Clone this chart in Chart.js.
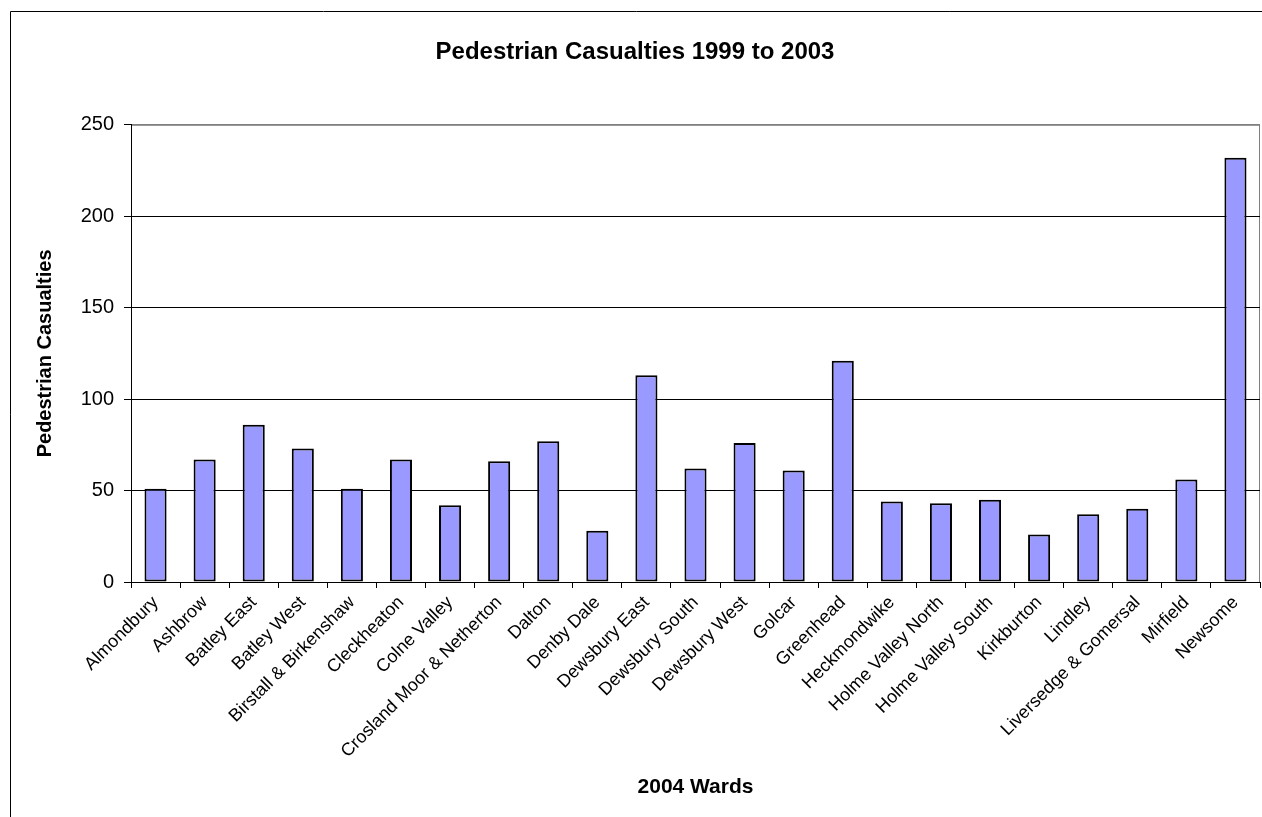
<!DOCTYPE html>
<html>
<head>
<meta charset="utf-8">
<script src="https://cdn.jsdelivr.net/npm/chart.js@4.4.0/dist/chart.umd.min.js"></script>
<style>
  html, body { margin: 0; padding: 0; background: #fff; }
  #wrap { position: absolute; left: 0; top: 0; width: 1262px; height: 817px; }
</style>
</head>
<body>
<div id="wrap"><canvas id="c"></canvas></div>
<script>
const wards = [
  "Almondbury", "Ashbrow", "Batley East", "Batley West", "Birstall & Birkenshaw",
  "Cleckheaton", "Colne Valley", "Crosland Moor & Netherton", "Dalton", "Denby Dale",
  "Dewsbury East", "Dewsbury South", "Dewsbury West", "Golcar", "Greenhead",
  "Heckmondwike", "Holme Valley North", "Holme Valley South", "Kirkburton", "Lindley",
  "Liversedge & Gomersal", "Mirfield", "Newsome"
];
const casualties = [
  51, 67, 86, 73, 51,
  67, 42, 66, 77, 28,
  113, 62, 76, 61, 121,
  44, 43, 45, 26, 37,
  40, 56, 232
];
const yTicks = [0, 50, 100, 150, 200, 250];

const FONT = "'Liberation Sans', Arial, sans-serif";

// outer chart frame (cut by the page edge) and grey plot-area border
const framePlugin = {
  id: "frame",
  beforeDraw(chart) {
    const { ctx, chartArea: a } = chart;
    ctx.save();
    ctx.strokeStyle = "#000";
    ctx.lineWidth = 1;
    ctx.beginPath();
    ctx.moveTo(10.5, chart.height);
    ctx.lineTo(10.5, 11.5);
    ctx.lineTo(chart.width, 11.5);
    ctx.stroke();
    ctx.strokeStyle = "#808080";
    ctx.strokeRect(a.left + 0.5, a.top + 0.5, a.right - a.left - 1, a.bottom - a.top);
    ctx.restore();
  }
};

const config = {
  type: "bar",
  data: {
    labels: wards,
    datasets: [
      {
        label: "Pedestrian Casualties",
        data: casualties,
        backgroundColor: "#9999FF",
        borderColor: "#000",
        borderWidth: 2,
        borderSkipped: false,
        categoryPercentage: 1,
        barPercentage: 0.45,
      },
    ],
  },
  options: {
    responsive: true,
    maintainAspectRatio: false,
    animation: false,
    layout: { padding: { left: 10, top: 11, right: 2, bottom: 0 } },
    plugins: {
      legend: { display: false },
      tooltip: { enabled: false },
      title: {
        display: true,
        text: "Pedestrian Casualties 1999 to 2003",
        color: "#000",
        font: { family: FONT, size: 24, weight: "bold" },
        padding: { top: 27, bottom: 58 },
      },
    },
    scales: {
      x: {
        grid: { offset: true, drawOnChartArea: false, drawTicks: true, tickLength: 6, color: "#000" },
        border: { color: "#000", width: 1 },
        ticks: {
          color: "#000",
          font: { family: FONT, size: 18 },
          maxRotation: 45,
          minRotation: 45,
          autoSkip: false,
          padding: 4,
        },
        title: {
          display: true,
          text: "2004 Wards",
          color: "#000",
          font: { family: FONT, size: 21, weight: "bold" },
          padding: { top: 0, bottom: 17 },
        },
        afterFit(s) { s.height = 235; },
      },
      y: {
        min: 0,
        max: 250,
        afterBuildTicks(s) { s.ticks = yTicks.map(v => ({ value: v })); },
        grid: {
          color: ctx => (ctx.tick && ctx.tick.value === 250 ? "#808080" : "#000"),
          lineWidth: 1,
          tickLength: 7,
          tickColor: "#000",
        },
        border: { color: "#000", width: 1 },
        ticks: {
          color: "#000",
          font: { family: FONT, size: 20 },
          padding: 10,
        },
        title: {
          display: true,
          text: "Pedestrian Casualties",
          color: "#000",
          font: { family: FONT, size: 20, weight: "bold" },
          padding: { top: 23, bottom: 0 },
        },
        afterFit(s) { s.width = 121; },
      },
    },
  },
  plugins: [framePlugin],
};

const ctx = document.getElementById("c");
const myChart = new Chart(ctx, config);
</script>
</body>
</html>
